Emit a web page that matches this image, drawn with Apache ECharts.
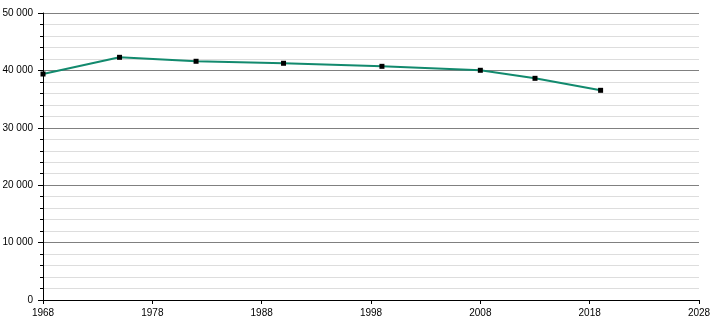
<!DOCTYPE html>
<html>
<head>
<meta charset="utf-8">
<script src="https://cdn.jsdelivr.net/npm/echarts@6/dist/echarts.min.js"></script>
<style>html,body{margin:0;padding:0;background:#fff;}#c{width:710px;height:320px;}</style>
</head>
<body>
<div id="c"></div>
<script>
const years = [1968, 1975, 1982, 1990, 1999, 2008, 2013, 2019];
const population = [39370, 42280, 41590, 41240, 40710, 40020, 38620, 36530];
const yTicks = [0, 10000, 20000, 30000, 40000, 50000];
const xTicks = [1968, 1978, 1988, 1998, 2008, 2018, 2028];

const fmt = v => String(v).replace(/\B(?=(\d{3})+(?!\d))/g, ' ');
const chart = echarts.init(document.getElementById('c'), null, {renderer: 'canvas'});
chart.setOption({
  animation: false,
  backgroundColor: '#fff',
  grid: {left: 43, right: 11, top: 13, bottom: 20, containLabel: false, outerBoundsMode: 'none'},
  xAxis: {
    type: 'value',
    min: xTicks[0], max: xTicks[xTicks.length - 1], interval: 10,
    axisLine: {onZero: false, lineStyle: {color: '#000', width: 1}},
    axisTick: {show: true, length: 4, lineStyle: {color: '#000'}},
    axisLabel: {color: '#000', fontFamily: 'Liberation Sans, Arial', fontSize: 10, margin: 8,
      formatter: v => String(v)},
    splitLine: {show: false}
  },
  yAxis: {
    type: 'value',
    min: yTicks[0], max: yTicks[yTicks.length - 1], interval: 10000,
    axisLine: {show: true, lineStyle: {color: '#000', width: 1}},
    axisTick: {show: true, length: 5, lineStyle: {color: '#000'}},
    minorTick: {show: true, splitNumber: 5, length: 3, lineStyle: {color: '#000'}},
    axisLabel: {color: '#000', fontFamily: 'Liberation Sans, Arial', fontSize: 10, margin: 10,
      formatter: v => fmt(v)},
    splitLine: {show: true, lineStyle: {color: '#808080', width: 1}},
    minorSplitLine: {show: true, lineStyle: {color: '#dddddd', width: 1}}
  },
  series: [{
    type: 'line',
    data: years.map((y, i) => [y, population[i]]),
    lineStyle: {color: '#128a6e', width: 2},
    itemStyle: {color: '#000'},
    symbol: 'rect',
    symbolSize: 5,
    showAllSymbol: true,
    z: 5
  }]
});
</script>
</body>
</html>
